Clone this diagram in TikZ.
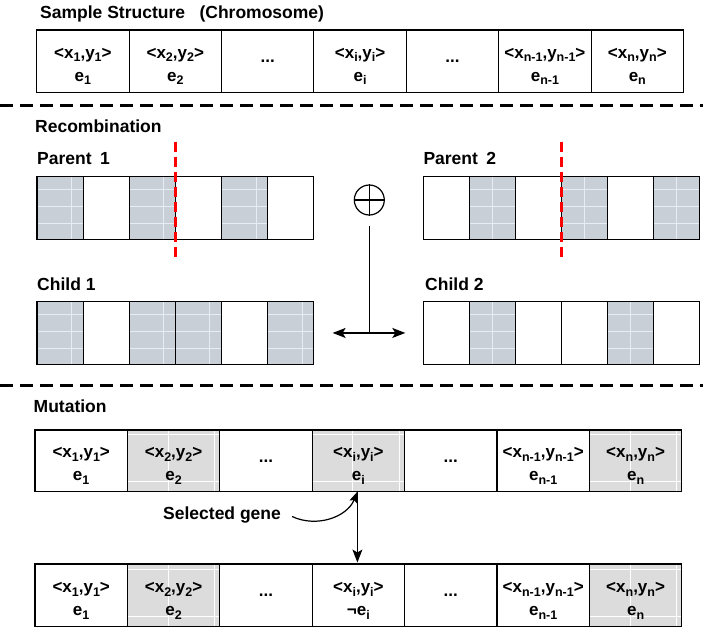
\documentclass[tikz,border=0pt]{standalone}
\usepackage{fontspec}
\setmainfont{Liberation Sans}
\usetikzlibrary{calc,arrows.meta}
\definecolor{rgrayc}{RGB}{201,207,215}
\definecolor{rlinec}{RGB}{232,237,244}
\definecolor{mgrayc}{RGB}{220,220,220}
\newcommand\lsub[1]{\raisebox{-0.4ex}{\fontsize{12.5}{12.5}\selectfont #1}}
\newcommand\pxy[2]{<x\lsub{#1},y\lsub{#2}>}
\newcommand\egn[1]{e\lsub{#1}}
\newcommand\tdots{...}
\newcommand\twol[2]{\begin{tabular}{@{}c@{}}\rule{0pt}{24pt}#1\\#2\end{tabular}}
\tikzset{
  lbl/.style={font=\bfseries\fontsize{17.5}{20}\selectfont, anchor=base west, inner sep=0pt},
  cellbox/.style={draw=black, line width=1.1pt, inner sep=0pt, outer sep=0pt, anchor=north west, align=center, font=\bfseries\fontsize{17}{23}\selectfont},
  bigcell/.style={cellbox, minimum width=92.4pt, minimum height=62.5pt},
  smallcell/.style={cellbox, minimum width=46.1pt, minimum height=62.5pt},
  rg/.style 2 args={path picture={\ifnum#1=1\relax
     \fill[rgrayc] (path picture bounding box.south west) rectangle (path picture bounding box.north east);
     \draw[rlinec,line width=0.9pt] ($(path picture bounding box.south west)!#2!(path picture bounding box.south east)$) -- ($(path picture bounding box.north west)!#2!(path picture bounding box.north east)$);
     \foreach \f in {0.2,0.475,0.748} {\draw[rlinec,line width=0.9pt] ($(path picture bounding box.north west)!\f!(path picture bounding box.south west)$) -- ($(path picture bounding box.north east)!\f!(path picture bounding box.south east)$);}
   \fi}},
  mg/.style={path picture={\ifnum#1=1\relax
     \fill[mgrayc] (path picture bounding box.south west) rectangle (path picture bounding box.north east);
     \foreach \f in {0.44,0.94} {\draw[white,line width=0.9pt] ($(path picture bounding box.south west)!\f!(path picture bounding box.south east)$) -- ($(path picture bounding box.north west)!\f!(path picture bounding box.north east)$);}
     \foreach \f in {0.08,0.84} {\draw[white,line width=0.9pt] ($(path picture bounding box.north west)!\f!(path picture bounding box.south west)$) -- ($(path picture bounding box.north east)!\f!(path picture bounding box.south east)$);}
   \fi}},
  sepline/.style={line width=3pt, dash pattern=on 13pt off 7pt},
  cutline/.style={red, line width=2.8pt, dash pattern=on 10pt off 5pt},
  arr/.style={line width=1.2pt, -{Stealth[length=13pt,width=10pt,inset=3pt]}},
}
\begin{document}
\begin{tikzpicture}[x=1pt,y=-1pt]
\useasboundingbox (0,0) rectangle (703,629);
% ---------- sample structure ----------
\node[lbl] (ttl) at (40,18.5) {Sample Structure\hspace{0.55em} (Chromosome)};
\foreach \txt [count=\i] in {{\twol{\pxy{1}{1}}{\egn{1}}},{\twol{\pxy{2}{2}}{\egn{2}}},{\tdots},{\twol{\pxy{i}{i}}{\egn{i}}},{\tdots},{\twol{\pxy{n-1}{n-1}}{\egn{n-1}}},{\twol{\pxy{n}{n}}{\egn{n}}}}
  \node[bigcell, minimum height=62.7pt] (s\i) at ({36.7+92.4*(\i-1)},30) {\txt};
\coordinate (d1l) at (0,105);
\coordinate (d1r) at (703,105);
\draw[sepline] (d1l) -- (d1r);
% ---------- recombination ----------
\node[lbl] (rec) at (35,132.7) {Recombination};
\node[lbl] (pl1) at (37,164.5) {Parent\hspace{0.2em} 1};
\node[lbl] (pl2) at (423.3,164.5) {Parent\hspace{0.2em} 2};
\node[lbl] (cl1) at (37,290) {Child 1};
\node[lbl] (cl2) at (425,290) {Child 2};
\foreach \g [count=\i] in {1,0,1,0,1,0}
  \node[smallcell, rg={\g}{0.75}] (pa\i) at ({37+46.1*(\i-1)},176.7) {};
\foreach \g [count=\i] in {0,1,0,1,0,1}
  \node[smallcell, rg={\g}{0.5}] (pb\i) at ({423.3+46.1*(\i-1)},176.7) {};
\foreach \g [count=\i] in {1,0,1,1,0,1}
  \node[smallcell, rg={\g}{0.75}] (ca\i) at ({37+46.1*(\i-1)},301.7) {};
\foreach \g [count=\i] in {0,1,0,0,1,0}
  \node[smallcell, rg={\g}{0.5}] (cb\i) at ({423.3+46.1*(\i-1)},301.7) {};
\draw[cutline] ($(pa3.north east)+(0,-35)$) -- ($(pa3.south east)+(0,19)$);
\draw[cutline] ($(pb3.north east)+(0,-35)$) -- ($(pb3.south east)+(0,19)$);
\node[circle, draw, line width=1.2pt, minimum size=30pt, inner sep=0pt] (plus) at (369.3,200) {};
\draw[line width=1.2pt] (plus.north) -- (plus.south) (plus.west) -- (plus.east);
\coordinate (vtop) at (369.3,226);
\coordinate (junc) at (vtop |- ca6.east);
\draw[line width=1.2pt] (vtop) -- (junc);
\draw[arr] (junc) -- ([xshift=19pt]ca6.east);
\draw[arr] (junc) -- ([xshift=-18pt]cb1.west);
\coordinate (d2l) at (0,385);
\coordinate (d2r) at (703,385);
\draw[sepline] (d2l) -- (d2r);
% ---------- mutation ----------
\node[lbl] (mut) at (33.5,412.7) {Mutation};
\foreach \txt/\g [count=\i] in {{\twol{\pxy{1}{1}}{\egn{1}}}/0,{\twol{\pxy{2}{2}}{\egn{2}}}/1,{\tdots}/0,{\twol{\pxy{i}{i}}{\egn{i}}}/1,{\tdots}/0,{\twol{\pxy{n-1}{n-1}}{\egn{n-1}}}/0,{\twol{\pxy{n}{n}}{\egn{n}}}/1}
  \node[bigcell, minimum height=61.7pt, mg=\g] (ma\i) at ({35+92.4*(\i-1)},430) {\txt};
\foreach \txt/\g [count=\i] in {{\twol{\pxy{1}{1}}{\egn{1}}}/0,{\twol{\pxy{2}{2}}{\egn{2}}}/1,{\tdots}/0,{\twol{\pxy{i}{i}}{¬\egn{i}}}/0,{\tdots}/0,{\twol{\pxy{n-1}{n-1}}{\egn{n-1}}}/0,{\twol{\pxy{n}{n}}{\egn{n}}}/1}
  \node[bigcell, minimum height=62.7pt, mg=\g] (mb\i) at ({35+92.4*(\i-1)},564) {\txt};
\node[lbl] (sel) at (163,519.5) {Selected gene};
\draw[line width=1.2pt, -{Stealth[length=11pt,width=8pt,inset=2pt]}] ([xshift=11pt,yshift=-1.5pt]sel.east) to[out=-25,in=-112] ([xshift=-1pt]ma4.south);
\draw[arr] ([xshift=-1pt]ma4.south) -- ([xshift=-1pt,yshift=1.5pt]mb4.north);
\end{tikzpicture}
\end{document}
